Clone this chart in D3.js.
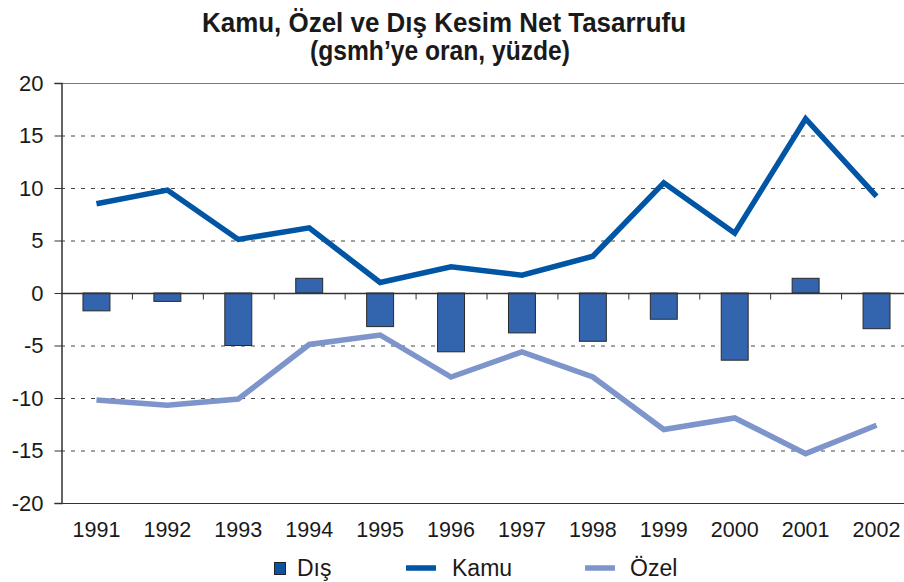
<!DOCTYPE html>
<html>
<head>
<meta charset="utf-8">
<script src="https://cdn.jsdelivr.net/npm/d3@7"></script>
<style>
  body { margin: 0; background: #fff; }
  text { font-family: "Liberation Sans", Arial, sans-serif; }
</style>
</head>
<body>
<svg width="904" height="582"></svg>
<script>
// values, in % of GNP
var years = ["1991", "1992", "1993", "1994", "1995", "1996", "1997", "1998", "1999", "2000", "2001", "2002"]
var dis = [-1.7, -0.8, -5.0, 1.4, -3.2, -5.6, -3.8, -4.6, -2.5, -6.4, 1.4, -3.4]
var kamu = [8.5, 9.8, 5.1, 6.2, 1.0, 2.5, 1.7, 3.5, 10.5, 5.7, 16.6, 9.2]
var ozel = [-10.2, -10.7, -10.1, -4.9, -4.0, -8.0, -5.6, -8.0, -13.0, -11.9, -15.3, -12.6]
var yTicks = [20, 15, 10, 5, 0, -5, -10, -15, -20]

var svg = d3.select("svg"),
    margin = {top: 83, right: -8, bottom: 79, left: 61},
    width = +svg.attr("width"),
    height = +svg.attr("height");

var x = d3.scaleBand()
    .domain(years)
    .range([margin.left, width - margin.right])
    .paddingInner(0.62).paddingOuter(0.31);

var xc = d3.scaleBand()
    .domain(years)
    .range([margin.left, width - margin.right]);

var y = d3.scaleLinear()
    .domain([-20, 20])
    .range([height - margin.bottom, margin.top]);

// title
svg.append("text")
    .attr("x", 444).attr("y", 32)
    .attr("text-anchor", "middle")
    .attr("textLength", 484).attr("lengthAdjust", "spacingAndGlyphs")
    .style("font-size", "28px").style("font-weight", "bold")
    .attr("fill", "#1a1a1a")
    .text("Kamu, Özel ve Dış Kesim Net Tasarrufu");
svg.append("text")
    .attr("x", 440).attr("y", 60)
    .attr("text-anchor", "middle")
    .attr("textLength", 260).attr("lengthAdjust", "spacingAndGlyphs")
    .style("font-size", "28px").style("font-weight", "bold")
    .attr("fill", "#1a1a1a")
    .text("(gsmh’ye oran, yüzde)");

// gridlines
svg.append("g")
    .selectAll("line")
    .data(yTicks.filter(function(d) { return d != 0 && d != 20 && d != -20 }))
    .enter().append("line")
    .attr("x1", margin.left).attr("x2", width)
    .attr("y1", function(d) { return y(d) + 0.5 })
    .attr("y2", function(d) { return y(d) + 0.5 })
    .attr("stroke", "#444")
    .attr("stroke-dasharray", "4,6");

// top border
svg.append("line")
    .attr("x1", margin.left).attr("x2", width)
    .attr("y1", y(20) + 0.5).attr("y2", y(20) + 0.5)
    .attr("stroke", "#777");

// bottom border
svg.append("line")
    .attr("x1", margin.left).attr("x2", width)
    .attr("y1", y(-20) + 0.5).attr("y2", y(-20) + 0.5)
    .attr("stroke", "#333");

// y axis
var yAxis = svg.append("g")
    .attr("class", "y axis")
    .attr("transform", "translate(" + (margin.left + 0.5) + ",0)")
    .call(d3.axisLeft(y).tickValues(yTicks).tickSize(7).tickPadding(11)
        .tickFormat(function(d) { return String(d) }));
yAxis.select(".domain").attr("stroke", "#333").attr("stroke-width", 1.5);
yAxis.selectAll(".tick line").attr("stroke", "#333");
yAxis.selectAll("text")
    .style("font-size", "22px").attr("fill", "#1a1a1a");

// bars
svg.append("g")
    .selectAll("rect")
    .data(dis)
    .enter().append("rect")
    .attr("class", "bar")
    .attr("x", function(d, i) { return x(years[i]) })
    .attr("width", x.bandwidth())
    .attr("y", function(d) { return y(Math.max(0, d)) })
    .attr("height", function(d) { return Math.abs(y(d) - y(0)) })
    .attr("fill", "#3364ae")
    .attr("stroke", "#2a2a2a")
    .attr("stroke-width", 1);

// zero line with category ticks
var xAxis = svg.append("g")
    .attr("class", "x axis")
    .attr("transform", "translate(0," + (y(0) + 0.5) + ")");
xAxis.append("line")
    .attr("x1", margin.left).attr("x2", width)
    .attr("stroke", "#333").attr("stroke-width", 1.5);
xAxis.selectAll(".tk")
    .data(years.slice(1))
    .enter().append("line")
    .attr("class", "tk")
    .attr("x1", function(d) { return xc(d) + 0.5 })
    .attr("x2", function(d) { return xc(d) + 0.5 })
    .attr("y1", 0).attr("y2", 6)
    .attr("stroke", "#333");

// year labels
svg.append("g")
    .selectAll("text")
    .data(years)
    .enter().append("text")
    .attr("x", function(d) { return xc(d) + xc.bandwidth() / 2 })
    .attr("y", 537)
    .attr("text-anchor", "middle")
    .style("font-size", "21.5px").attr("fill", "#1a1a1a")
    .text(function(d) { return d });

// lines
var line = d3.line()
    .x(function(d, i) { return xc(years[i]) + xc.bandwidth() / 2 })
    .y(function(d) { return y(d) });

svg.append("path")
    .datum(ozel)
    .attr("d", line)
    .attr("fill", "none")
    .attr("stroke", "#7e95cb")
    .attr("stroke-width", 5.5);

svg.append("path")
    .datum(kamu)
    .attr("d", line)
    .attr("fill", "none")
    .attr("stroke", "#0055a5")
    .attr("stroke-width", 5.5);

// legend
var legend = svg.append("g").attr("class", "legend");
legend.append("rect")
    .attr("x", 274.5).attr("y", 562.5).attr("width", 11).attr("height", 12)
    .attr("fill", "#0f52a2").attr("stroke", "#222");
legend.append("text").attr("x", 297).attr("y", 576)
    .style("font-size", "23px").attr("fill", "#1a1a1a").text("Dış");
legend.append("line")
    .attr("x1", 406).attr("x2", 436).attr("y1", 568).attr("y2", 568)
    .attr("stroke", "#0055a5").attr("stroke-width", 5.5);
legend.append("text").attr("x", 452).attr("y", 576)
    .style("font-size", "23px").attr("fill", "#1a1a1a").text("Kamu");
legend.append("line")
    .attr("x1", 585).attr("x2", 615).attr("y1", 568).attr("y2", 568)
    .attr("stroke", "#7e95cb").attr("stroke-width", 5.5);
legend.append("text").attr("x", 630).attr("y", 576)
    .style("font-size", "23px").attr("fill", "#1a1a1a").text("Özel");
</script>
</body>
</html>
